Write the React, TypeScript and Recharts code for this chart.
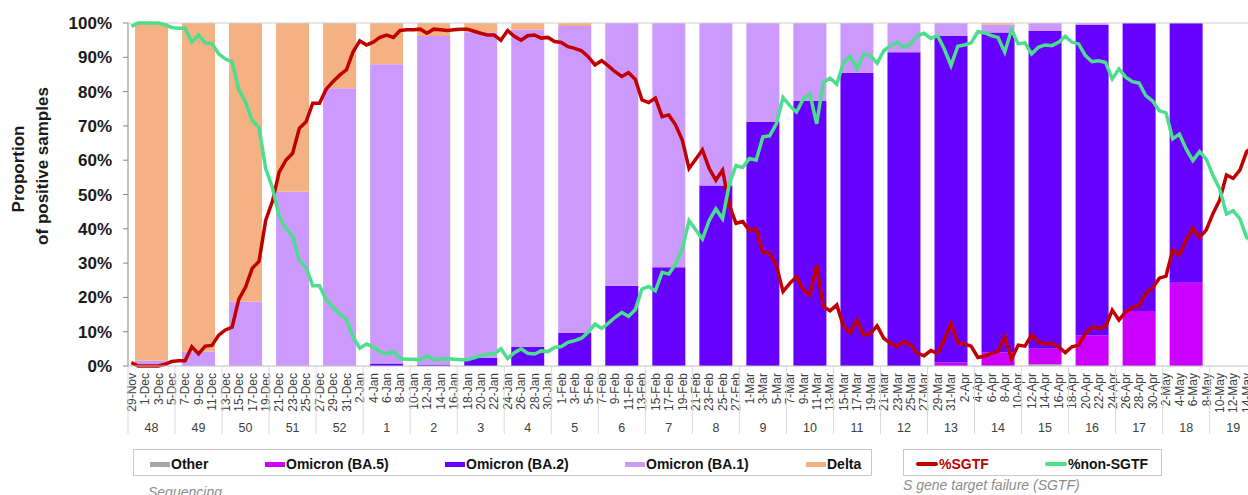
import React from 'react';
import { ComposedChart, Bar, Line, XAxis, YAxis, ReferenceLine, Legend, Label } from 'recharts';

const FONT = '"Liberation Sans", Arial, sans-serif';

// ISO weeks, 48/2021 .. 19/2022
const WEEKS = ['48', '49', '50', '51', '52', '1', '2', '3', '4', '5', '6', '7', '8', '9', '10', '11', '12', '13', '14', '15', '16', '17', '18', '19'];

// sequencing shares per week (%)
const OTHER = [0, 0, 0, 0, 0, 0, 0, 0, 0, 0, 0, 0, 0, 0, 0, 0, 0, 0, 0, 0.5, 0, 0, 0, 0];
const BA5 = [0, 0, 0, 0, 0, 0, 0, 0, 0, 0, 0, 0, 0, 0, 0, 0, 0, 1, 3.9, 4.5, 9, 16, 24.3, 0];
const BA2 = [0, 0, 0, 0, 0, 0.7, 0.3, 2.3, 5.6, 9.7, 23.4, 28.8, 52.6, 71.2, 77.3, 85.5, 91.5, 95.2, 93.3, 92.7, 90.5, 84, 75.7, 0];
const BA1 = [1.5, 4.2, 18.7, 50.8, 81, 87.3, 95.9, 95, 92.4, 89.4, 76.6, 71.2, 47.4, 28.8, 22.7, 14.5, 8.5, 3.8, 2.3, 2.3, 0.5, 0, 0, 0];
const DELTA = [98.5, 95.8, 81.3, 49.2, 19, 12, 3.8, 2.7, 2, 0.9, 0, 0, 0, 0, 0, 0, 0, 0, 0.5, 0, 0, 0, 0, 0];

// daily S gene target failure (%), from 29-Nov
const SGTF = [
  1, 0, 0, 0, 0, 0.5, 1.3, 1.5, 1.5, 5.6, 3.5, 5.8, 6, 9, 10.5, 11.3, 19.5, 23, 28.5, 30.5,
  42.5, 48, 56.5, 60, 62, 69.3, 71.2, 76.6, 76.6, 80.7, 82.9, 84.8, 86.3, 91.6, 94.8, 93.6, 94.4, 95.8, 96.5, 95.8,
  97.8, 98, 98, 98.2, 97, 98.2, 98, 97.8, 98, 98.2, 98.2, 97.6, 97, 96.5, 96.5, 95, 97.8, 96.1, 95, 96.3,
  96.5, 95.6, 95.8, 94.6, 94.3, 93.1, 92.6, 91.9, 90.2, 87.8, 89, 87.5, 85.8, 84.4, 85.5, 83.6, 77.6, 76.8, 78.1, 72.7,
  73.2, 70.3, 65.9, 57.6, 60.3, 63, 57.6, 54.2, 57.1, 46.9, 41.6, 42.1, 39.5, 40, 33.2, 32.9, 29.4, 21.7, 24.1, 26,
  22.2, 20.7, 29.4, 17.3, 16.1, 17.8, 11.5, 9.7, 13.4, 9, 9.5, 11.7, 8.1, 6.6, 5.6, 7.1, 6.1, 3.7, 3, 4.5,
  3.7, 7.6, 12.4, 6.8, 6.4, 5.8, 2.5, 2.9, 3.7, 4.2, 8.5, 2, 6.1, 5.8, 9, 7.1, 6.4, 6.6, 5.6, 3.9,
  5.6, 6.1, 9.5, 11.3, 11, 11.5, 16.3, 13.4, 15.8, 17.1, 17.5, 21.2, 22.7, 25.6, 26.2, 33.8, 32.4, 36.7, 40.1, 37.5,
  39.7, 44.5, 48.4, 55.7, 54.7, 57.1, 62.5, 64,
];

const NON_SGTF = [
  99, 100, 100, 100, 100, 99.5, 98.7, 98.5, 98.5, 94.4, 96.5, 94.2, 94, 91, 89.5, 88.7, 80.5, 77, 71.5, 69.5,
  57.5, 52, 43.5, 40, 38, 30.7, 28.8, 23.4, 23.4, 19.3, 17.1, 15.2, 13.7, 8.4, 5.2, 6.4, 5.6, 4.2, 3.5, 4.2,
  2.2, 2, 2, 1.8, 3, 1.8, 2, 2.2, 2, 1.8, 1.8, 2.4, 3, 3.5, 3.5, 5, 2.2, 3.9, 5, 3.7,
  3.5, 4.4, 4.2, 5.4, 5.7, 6.9, 7.4, 8.1, 9.8, 12.2, 11, 12.5, 14.2, 15.6, 14.5, 16.4, 22.4, 23.2, 21.9, 27.3,
  26.8, 29.7, 34.1, 42.4, 39.7, 37, 42.4, 45.8, 42.9, 53.1, 58.4, 57.9, 60.5, 60, 66.8, 67.1, 70.6, 78.3, 75.9, 74,
  77.8, 79.3, 70.6, 82.7, 83.9, 82.2, 88.5, 90.3, 86.6, 91, 90.5, 88.3, 91.9, 93.4, 94.4, 92.9, 93.9, 96.3, 97, 95.5,
  96.3, 92.4, 87.6, 93.2, 93.6, 94.2, 97.5, 97.1, 96.3, 95.8, 91.5, 98, 93.9, 94.2, 91, 92.9, 93.6, 93.4, 94.4, 96.1,
  94.4, 93.9, 90.5, 88.7, 89, 88.5, 83.7, 86.6, 84.2, 82.9, 82.5, 78.8, 77.3, 74.4, 73.8, 66.2, 67.6, 63.3, 59.9, 62.5,
  60.3, 55.5, 51.6, 44.3, 45.3, 42.9, 37.5, 36,
];

const Y_TICKS = [0, 10, 20, 30, 40, 50, 60, 70, 80, 90, 100];

const MONTHS = ['Jan', 'Feb', 'Mar', 'Apr', 'May', 'Jun', 'Jul', 'Aug', 'Sep', 'Oct', 'Nov', 'Dec'];
const START = Date.UTC(2021, 10, 29);
const DAYS = SGTF.map((_, i) => {
  const d = new Date(START + i * 86400000);
  return `${d.getUTCDate()}-${MONTHS[d.getUTCMonth()]}`;
});

const WEEK_ROWS = WEEKS.map((week, i) => ({
  week,
  other: OTHER[i],
  ba5: BA5[i],
  ba2: BA2[i],
  ba1: BA1[i],
  delta: DELTA[i],
}));

const DAY_ROWS = DAYS.map((day, i) => ({ day, sgtf: SGTF[i], nonSgtf: NON_SGTF[i] }));

const BAR_SERIES = [
  { key: 'other', name: 'Other', color: '#A6A6A6', at: 17 },
  { key: 'ba5', name: 'Omicron (BA.5)', color: '#CC00FF', at: 132 },
  { key: 'ba2', name: 'Omicron (BA.2)', color: '#6600FF', at: 312 },
  { key: 'ba1', name: 'Omicron (BA.1)', color: '#CC99FF', at: 492 },
  { key: 'delta', name: 'Delta', color: '#F4B183', at: 673 },
];

const LINE_SERIES = [
  { key: 'sgtf', name: '%SGTF', color: '#C00000', text: '#C00000', at: 13 },
  { key: 'nonSgtf', name: '%non-SGTF', color: '#4BDE8C', text: '#111', at: 142 },
];

const CHART_W = 1268;
const CHART_H = 495;
const MARGIN = { top: 23, right: 11.3, bottom: 5, left: 68 };
const Y_W = 60;
const PLOT_W = CHART_W - MARGIN.left - Y_W - MARGIN.right;
const HALF_WEEK = PLOT_W / WEEKS.length / 2;

const DayTick = ({ x, y, payload }: any) => {
  const tx = x + 4.3;
  const ty = y + 7;
  return (
    <text
      x={tx}
      y={ty}
      transform={`rotate(-90, ${tx}, ${ty})`}
      textAnchor="end"
      fontSize={12}
      fontFamily={FONT}
      fill="#404040"
    >
      {payload.value}
    </text>
  );
};

const WeekTick = ({ x, y, payload, index }: any) => (
  <g>
    <line x1={x - HALF_WEEK} x2={x - HALF_WEEK} y1={y - 48} y2={y + 20} stroke="#d9d9d9" />
    {index === WEEKS.length - 1 && (
      <line x1={x + HALF_WEEK} x2={x + HALF_WEEK} y1={y - 48} y2={y + 20} stroke="#d9d9d9" />
    )}
    <text x={x} y={y + 18} textAnchor="middle" fontSize={12.5} fontFamily={FONT} fill="#404040">
      {payload.value}
    </text>
  </g>
);

const YTitle = () => (
  <g fontFamily={FONT} fontWeight="bold" fontSize={17} fill="#1a1a1a">
    <text x={18.5} y={169} textAnchor="middle" dominantBaseline="central" transform="rotate(-90, 18.5, 169)">
      Proportion
    </text>
    <text x={42} y={166} textAnchor="middle" dominantBaseline="central" transform="rotate(-90, 42, 166)">
      of positive samples
    </text>
  </g>
);

const boxStyle: React.CSSProperties = {
  position: 'absolute',
  top: 0,
  height: 27,
  border: '1px solid #c8c8c8',
  boxSizing: 'border-box',
  background: '#fff',
};

const itemStyle: React.CSSProperties = {
  position: 'absolute',
  top: 1.5,
  height: 25,
  display: 'flex',
  alignItems: 'center',
  fontSize: 14,
  fontWeight: 'bold',
  whiteSpace: 'nowrap',
};

const captionStyle: React.CSSProperties = {
  position: 'absolute',
  fontSize: 14,
  lineHeight: '16px',
  fontStyle: 'italic',
  color: '#8c8c8c',
  whiteSpace: 'nowrap',
};

const LegendBoxes = () => (
  <div style={{ position: 'relative', width: '100%', height: 46, fontFamily: FONT }}>
    <div style={{ ...boxStyle, left: 133, width: 739 }}>
      {BAR_SERIES.map((s) => (
        <div key={s.key} style={{ ...itemStyle, left: s.at - 1, color: '#111' }}>
          <span style={{ display: 'inline-block', width: 20, height: 5, background: s.color, marginRight: 1 }} />
          {s.name}
        </div>
      ))}
    </div>
    <div style={{ ...boxStyle, left: 903, width: 259 }}>
      {LINE_SERIES.map((s) => (
        <div key={s.key} style={{ ...itemStyle, left: s.at - 1, color: s.text }}>
          <span style={{ display: 'inline-block', width: 22, height: 4, borderRadius: 2, background: s.color, marginRight: 1 }} />
          {s.name}
        </div>
      ))}
    </div>
    <div style={{ ...captionStyle, left: 148, top: 35 }}>Sequencing</div>
    <div style={{ ...captionStyle, left: 903, top: 28 }}>S gene target failure (SGTF)</div>
  </div>
);

export default function App() {
  return (
    <div
      style={{
        position: 'fixed',
        left: 0,
        top: 0,
        width: 1248,
        height: 495,
        overflow: 'hidden',
        background: '#fff',
      }}
    >
      <ComposedChart width={CHART_W} height={CHART_H} data={WEEK_ROWS} margin={MARGIN}>
        <XAxis
          xAxisId="day"
          dataKey="day"
          type="category"
          allowDuplicatedCategory={false}
          interval={1}
          height={48}
          tickSize={0}
          tickMargin={0}
          tickLine={false}
          axisLine={{ stroke: '#bfbfbf' }}
          tick={<DayTick />}
        />
        <XAxis
          xAxisId="week"
          dataKey="week"
          type="category"
          interval={0}
          height={30}
          tickSize={0}
          tickMargin={0}
          tickLine={false}
          axisLine={false}
          tick={<WeekTick />}
        />
        <YAxis
          width={Y_W}
          domain={[0, 100]}
          ticks={Y_TICKS}
          interval={0}
          tickFormatter={(v: number) => `${v}%`}
          tickSize={5}
          tickMargin={11}
          axisLine={{ stroke: '#868686' }}
          tickLine={{ stroke: '#868686' }}
          tick={{ fontSize: 17, fontWeight: 'bold', fill: '#1a1a1a', fontFamily: FONT }}
        >
          <Label content={<YTitle />} />
        </YAxis>
        <ReferenceLine xAxisId="week" y={100} stroke="#d0d0d0" />
        {BAR_SERIES.map((s) => (
          <Bar
            key={s.key}
            xAxisId="week"
            dataKey={s.key}
            name={s.name}
            stackId="seq"
            fill={s.color}
            barSize={33}
            isAnimationActive={false}
          />
        ))}
        {LINE_SERIES.map((s) => (
          <Line
            key={s.key}
            xAxisId="day"
            data={DAY_ROWS}
            dataKey={s.key}
            name={s.name}
            type="linear"
            stroke={s.color}
            strokeWidth={3.5}
            dot={false}
            activeDot={false}
            isAnimationActive={false}
          />
        ))}
        <Legend
          verticalAlign="bottom"
          content={() => <LegendBoxes />}
          wrapperStyle={{ left: 0, top: 449, bottom: 'auto', width: 1248, height: 46 }}
        />
      </ComposedChart>
    </div>
  );
}
